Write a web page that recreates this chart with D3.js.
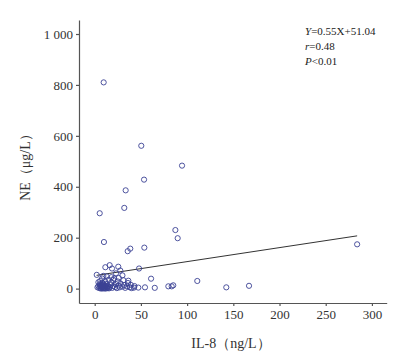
<!DOCTYPE html>
<html>
<head>
<meta charset="utf-8">
<script src="https://cdn.jsdelivr.net/npm/d3@7"></script>
<style>
  html, body { margin: 0; padding: 0; background: #fff; }
  svg { display: block; }
  .tick text { font-family: "Liberation Serif", "Times New Roman", serif; font-size: 13px; fill: #333; }
</style>
</head>
<body>
<svg id="chart" width="420" height="363"></svg>
<script>
// IL-8 (x) values
const il8 = [
  9.7, 50.4, 94.5, 53.4, 33.5, 32, 5.4, 87.3, 89.8, 10, 38.5, 35.7, 53.7, 284,
  11.5, 16.2, 18.7, 25.5, 27.7, 23, 2.2, 9.3, 48, 61, 36.4, 111,
  65, 79.7, 83.3, 85, 142.4, 167, 42.5, 47.2, 54.4,
  3, 4, 5, 5.5, 6, 7, 7.5, 8, 8.5, 9, 9.5, 10, 10.5, 11, 11.5, 12, 12.5, 13, 14, 14.5,
  15, 16, 17, 18, 19, 20, 21, 22, 23, 24, 25, 26, 27, 28, 30, 31, 32, 33, 35, 36, 38, 39, 40, 43,
  6, 8, 4, 18, 20, 13, 26, 30,
  6.5, 7.8, 8.8, 9.8, 10.8, 11.8, 7.2, 9.2, 12.8, 5.8, 13.8, 15.5
];
// NE (y) values
const ne = [
  810, 561, 483, 428, 386, 317, 296, 230, 198, 183, 157, 147, 161, 174,
  84, 92, 79, 86, 71, 60, 54, 50, 79, 39, 31, 30,
  3, 9, 9, 13, 5, 11, 4, 4, 5,
  5, 10, 2, 18, 8, 0, 12, 4, 22, 6, 15, 1, 9, 3, 28, 12, 6, 18, 2, 9,
  35, 5, 14, 24, 3, 10, 40, 6, 18, 2, 28, 12, 5, 20, 8, 33, 14, 3, 9, 22, 5, 15, 2, 10,
  30, 40, 25, 45, 34, 48, 42, 52,
  3, 7, 1, 11, 5, 0, 16, 19, 9, 13, 4, 1
];
const xTicks = [0, 50, 100, 150, 200, 250, 300];
const yTicks = [0, 200, 400, 600, 800, 1000];
const yTickLabels = ["0", "200", "400", "600", "800", "1 000"];
const slope = 0.55, intercept = 51.04;
const fitRange = [2, 284];
const statLines = [
  [["Y", true], ["=0.55X+51.04", false]],
  [["r", true], ["=0.48", false]],
  [["P", true], ["<0.01", false]]
];
const xTitle = "IL-8（ng/L）";
const yTitle = "NE（μg/L）";

const svg = d3.select("#chart");
const x = d3.scaleLinear().domain([-17, 316]).range([79, 386.7]);
const y = d3.scaleLinear().domain([-56.5, 1055]).range([303, 20]);

const axisColor = "#555";

const gx = svg.append("g").attr("transform", `translate(0,${y(-56.5)})`)
  .call(d3.axisBottom(x).tickValues(xTicks).tickSize(3).tickSizeOuter(0).tickPadding(4));
const gy = svg.append("g").attr("transform", `translate(${x(-17)},0)`)
  .call(d3.axisLeft(y).tickValues(yTicks).tickFormat((d, i) => yTickLabels[i]).tickSize(3).tickSizeOuter(0).tickPadding(3));
[gx, gy].forEach(g => {
  g.select(".domain").attr("stroke", axisColor).attr("stroke-width", 1.2);
  g.selectAll(".tick line").attr("stroke", axisColor).attr("stroke-width", 1.2);
});

// regression line
svg.append("line")
  .attr("x1", x(fitRange[0])).attr("y1", y(slope * fitRange[0] + intercept))
  .attr("x2", x(fitRange[1])).attr("y2", y(slope * fitRange[1] + intercept))
  .attr("stroke", "#333").attr("stroke-width", 1);

// points
svg.append("g").selectAll("circle")
  .data(il8.map((v, i) => [v, ne[i]]))
  .join("circle")
  .attr("cx", d => x(d[0]))
  .attr("cy", d => y(d[1]))
  .attr("r", 2.6)
  .attr("fill", "none")
  .attr("stroke", "#3b4294")
  .attr("stroke-width", 0.9);

// stats text
const st = svg.append("g").attr("font-family", "'Liberation Serif', 'Times New Roman', serif").attr("font-size", 11).attr("fill", "#222");
statLines.forEach((parts, i) => {
  const t = st.append("text").attr("x", 305).attr("y", 35 + i * 14.8);
  parts.forEach(p => t.append("tspan").attr("font-style", p[1] ? "italic" : "normal").text(p[0]));
});

// axis titles
svg.append("text")
  .attr("x", 231).attr("y", 348)
  .attr("text-anchor", "middle")
  .attr("font-family", "'Liberation Serif', 'Times New Roman', serif")
  .attr("font-size", 14).attr("fill", "#333")
  .text(xTitle);
svg.append("text")
  .attr("transform", "translate(30,164) rotate(-90)")
  .attr("text-anchor", "middle")
  .attr("font-family", "'Liberation Serif', 'Times New Roman', serif")
  .attr("font-size", 14).attr("fill", "#333")
  .text(yTitle);
</script>
</body>
</html>
